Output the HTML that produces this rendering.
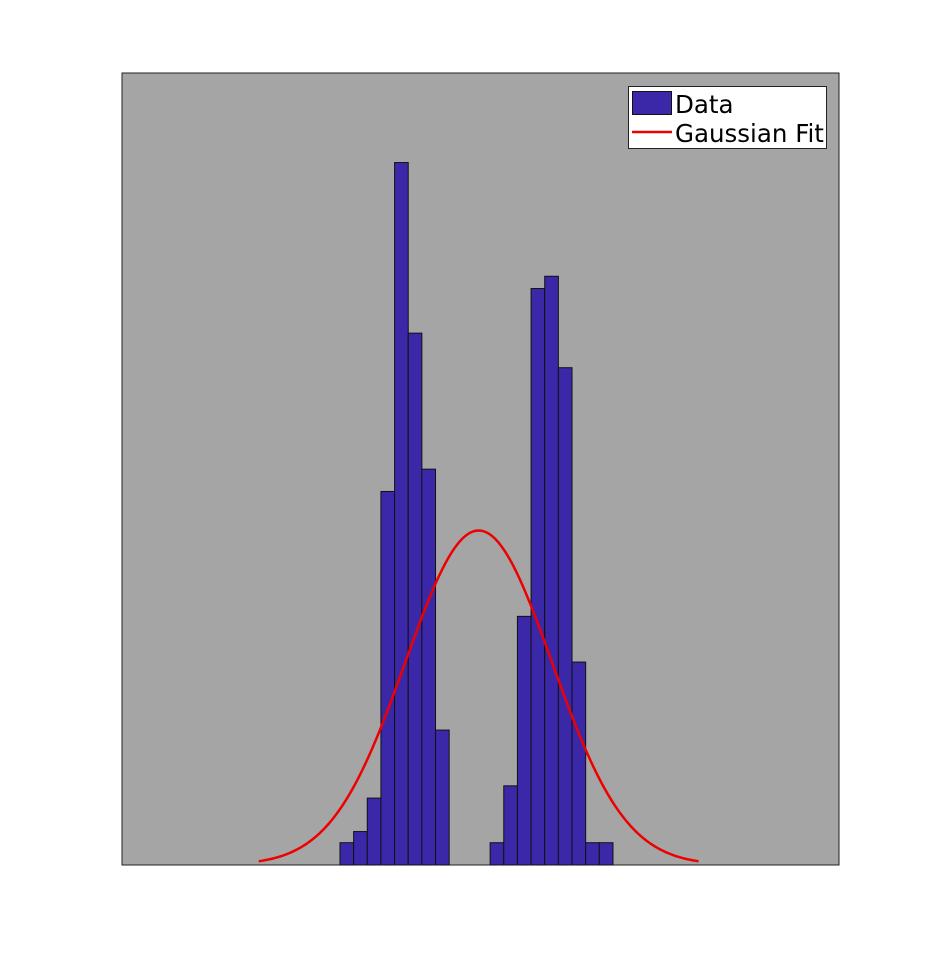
<!DOCTYPE html>
<html><head><meta charset="utf-8"><style>
html,body{margin:0;padding:0;background:#fff;}
svg{display:block;font-family:"DejaVu Sans","Liberation Sans",sans-serif;}
</style></head><body>
<svg id="chart" width="928" height="973" viewBox="0 0 928 973">
<rect x="122" y="73" width="717" height="792" fill="#a5a5a5" stroke="#222" stroke-width="1"/>
<g id="bars"></g>
<path id="fit" fill="none" stroke="#ee0000" stroke-width="2.5"/>
<g>
<rect x="628.5" y="86.5" width="198" height="62" fill="#fff" stroke="#222"/>
<rect x="632.5" y="91.5" width="39" height="23" fill="#3b28a8" stroke="#111"/>
<text x="675" y="113" font-size="24.5" fill="#000">Data</text>
<line x1="632" y1="132" x2="672" y2="132" stroke="#ee0000" stroke-width="2.5"/>
<text x="675" y="142" font-size="24.5" fill="#000">Gaussian Fit</text>
</g>
</svg>
<script>
const binStarts = [0,1,2,3,4,5,6,7,8,9,10,11,12,13,14,15,16,17,18,19];
const counts = [2,3,6,33.5,63,47.7,35.5,12.1,0,0,0,2,7.1,22.3,51.7,52.8,44.6,18.2,2,2];
const fitMean = 10.16;
const fitSigma = 5.37;
const fitPeak = 30.0;
const xDomain = [-15.97, 36.56];
const yDomain = [0, 71.03];
const plotX0 = 122, plotX1 = 839, plotY0 = 865, plotY1 = 73;
function xs(v){return plotX0 + (v - xDomain[0])/(xDomain[1]-xDomain[0])*(plotX1-plotX0);}
function ys(v){return plotY0 - (v - yDomain[0])/(yDomain[1]-yDomain[0])*(plotY0-plotY1);}
const NS = "http://www.w3.org/2000/svg";
const g = document.getElementById('bars');
binStarts.forEach((b,i)=>{
  if(counts[i] <= 0) return;
  const r = document.createElementNS(NS,'rect');
  const x0 = xs(b), x1 = xs(b+1), y = ys(counts[i]);
  r.setAttribute('x', x0);
  r.setAttribute('y', y);
  r.setAttribute('width', x1-x0);
  r.setAttribute('height', ys(0)-y);
  r.setAttribute('fill', '#3b28a8');
  r.setAttribute('stroke', '#111');
  r.setAttribute('stroke-width', '1');
  
  
  g.appendChild(r);
});
let d = '';
const n = 200;
for(let k=0;k<=n;k++){
  const v = fitMean - 3*fitSigma + 6*fitSigma*k/n;
  const yv = fitPeak*Math.exp(-((v-fitMean)**2)/(2*fitSigma*fitSigma));
  d += (k?'L':'M') + xs(v).toFixed(2) + ',' + ys(yv).toFixed(2);
}
document.getElementById('fit').setAttribute('d', d);
</script>
</body></html>
